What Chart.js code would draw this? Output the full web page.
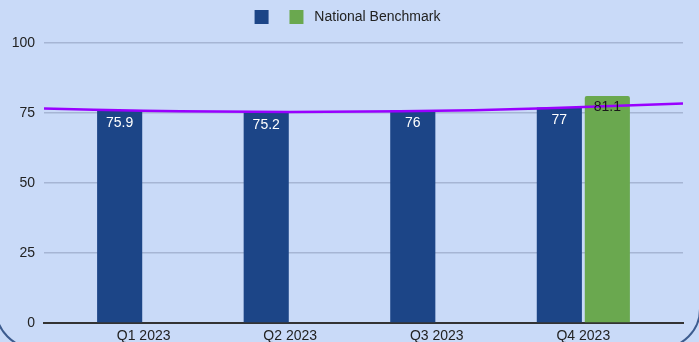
<!DOCTYPE html>
<html>
<head>
<meta charset="utf-8">
<title>Quarterly Score vs National Benchmark</title>
<script src="https://cdn.jsdelivr.net/npm/chart.js@4.4.1/dist/chart.umd.min.js"></script>
<style>
  html, body { margin: 0; padding: 0; }
  body {
    width: 699px; height: 342px; overflow: hidden; position: relative;
    background: #c9daf8;
  }
  /* rounded card outline, only the lower corners fall inside the view */
  #frame {
    position: absolute; left: -5px; top: -60px; width: 706px; height: 409px;
    box-sizing: border-box; border: 2px solid #3d5c8f; border-radius: 40px;
  }
  #wrap { position: absolute; left: 0; top: 0; width: 699px; height: 342px; }
</style>
</head>
<body>
<div id="frame"></div>
<div id="wrap"><canvas id="scoreChart"></canvas></div>

<script>
// quarterly data
const quarters = ['Q1 2023', 'Q2 2023', 'Q3 2023', 'Q4 2023'];
const scores = [75.9, 75.2, 76, 77];
const benchmark = [null, null, null, 81.1];

// polynomial trendline of the scores, sampled across the plot width
const trendX = [0.32, 1, 1.5, 2, 2.5, 3, 3.5, 4, 4.68];
const trendY = [76.6, 75.8, 75.5, 75.4, 75.5, 75.8, 76.3, 77.1, 78.4];

const yTicks = [0, 25, 50, 75, 100];

const FONT = '"Liberation Sans", Arial, sans-serif';

// value labels sit just inside the top of every bar
const valueLabels = {
    id: 'valueLabels',
    afterDatasetsDraw(chart) {
        const ctx = chart.ctx;
        ctx.save();
        ctx.font = '14px ' + FONT;
        ctx.textAlign = 'center';
        ctx.textBaseline = 'middle';
        chart.data.datasets.forEach((ds, i) => {
            if (ds.type === 'line') return;
            const meta = chart.getDatasetMeta(i);
            meta.data.forEach((bar, j) => {
                ctx.fillStyle = ds.labelColor;
                ctx.fillText(String(ds.data[j].y), bar.x, bar.y + ds.labelOffset);
            });
        });
        ctx.restore();
    }
};

// a bit of extra room between the legend and the plot
const legendGap = {
    id: 'legendGap',
    beforeLayout(chart) {
        const legend = chart.legend;
        if (!legend || legend._gapPatched) return;
        const fit = legend.fit;
        legend.fit = function () { fit.call(this); this.height += 9; };
        legend._gapPatched = true;
    }
};

const toPoints = (vals) => vals
    .map((v, i) => ({ x: i + 1, y: v }))
    .filter(p => p.y !== null);

const ctx = document.getElementById('scoreChart').getContext('2d');
const chart = new Chart(ctx, {
    type: 'bar',
    data: {
        datasets: [
            {
                type: 'line',
                label: 'Trend',
                data: trendX.map((x, i) => ({ x: x, y: trendY[i] })),
                borderColor: '#9900ff',
                borderWidth: 2.5,
                pointRadius: 0,
                tension: 0.4,
                fill: false,
                order: 0
            },
            {
                label: ' ',
                data: toPoints(scores),
                backgroundColor: '#1c4587',
                labelColor: '#ffffff',
                labelOffset: 13,
                categoryPercentage: 0.655,
                barPercentage: 0.94,
                order: 1
            },
            {
                label: ' National Benchmark',
                data: toPoints(benchmark),
                backgroundColor: '#6aa84f',
                labelColor: '#1a1a1a',
                labelOffset: 11,
                borderRadius: 2,
                categoryPercentage: 0.655,
                barPercentage: 0.94,
                order: 2
            }
        ]
    },
    options: {
        responsive: true,
        maintainAspectRatio: false,
        animation: false,
        layout: { padding: { left: 12, right: 16, top: 0, bottom: 0 } },
        plugins: {
            tooltip: { enabled: false },
            legend: {
                position: 'top',
                labels: {
                    filter: item => item.datasetIndex !== 0,
                    boxWidth: 14,
                    boxHeight: 14,
                    padding: 10,
                    color: '#222',
                    font: { family: FONT, size: 14 }
                }
            }
        },
        scales: {
            x: {
                type: 'linear',
                offset: false,
                min: 0.32,
                max: 4.68,
                afterBuildTicks: scale => {
                    scale.ticks = quarters.map((q, i) => ({ value: i + 1 }));
                },
                afterFit: scale => { scale.height = 19; },
                ticks: {
                    autoSkip: false,
                    maxRotation: 0,
                    padding: 5,
                    color: '#222',
                    font: { family: FONT, size: 14 },
                    callback: v => quarters[v - 1]
                },
                grid: { display: false, drawTicks: false },
                border: { display: true, color: '#333', width: 2 }
            },
            y: {
                min: 0,
                max: 100,
                afterBuildTicks: scale => {
                    scale.ticks = yTicks.map(v => ({ value: v }));
                },
                afterFit: scale => { scale.width = 32; },
                ticks: {
                    padding: 9,
                    color: '#222',
                    font: { family: FONT, size: 14 }
                },
                grid: { color: '#a6b5d4', lineWidth: 1.5, drawTicks: false },
                border: { display: false }
            }
        }
    },
    plugins: [valueLabels, legendGap]
});
</script>
</body>
</html>
